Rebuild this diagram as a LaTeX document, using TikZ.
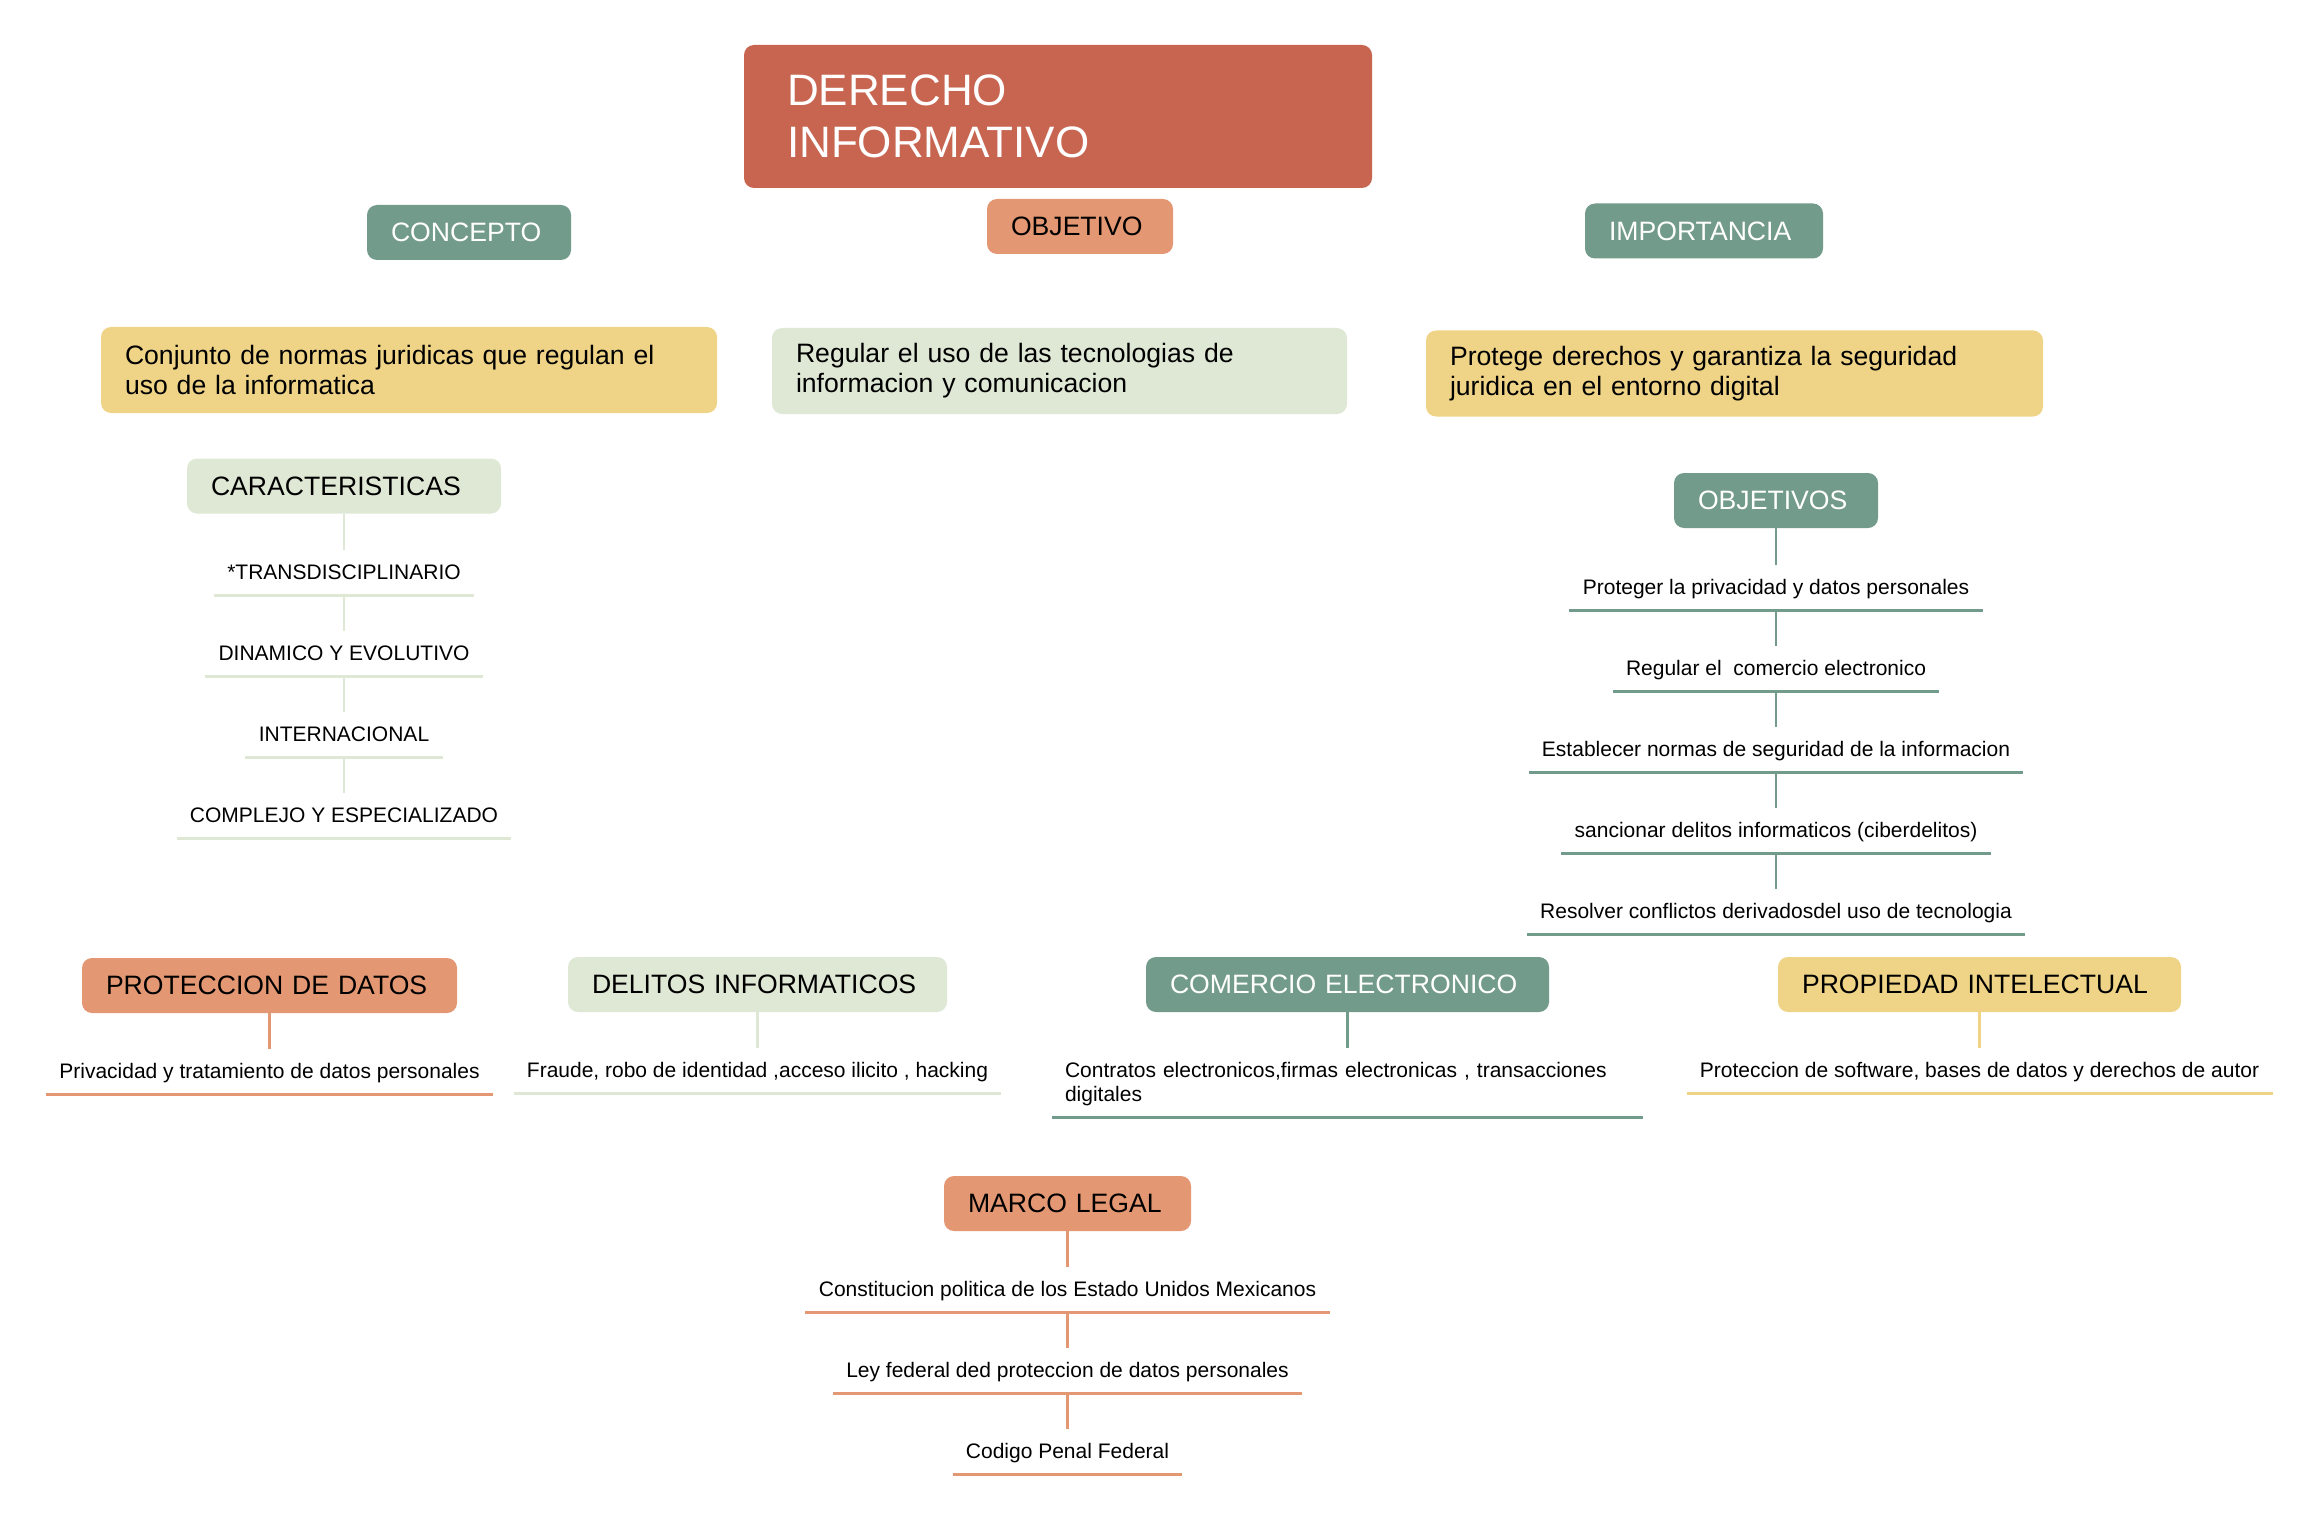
\documentclass[tikz,border=0pt]{standalone}
\usepackage{fontspec}
\setmainfont{Liberation Sans}
\definecolor{rojo}{RGB}{200,101,80}
\definecolor{salmon}{RGB}{227,152,115}
\definecolor{verde}{RGB}{115,155,139}
\definecolor{amarillo}{RGB}{239,212,135}
\definecolor{claro}{RGB}{223,231,213}

\begin{document}
\begin{tikzpicture}[x=0.5pt,y=-0.5pt,
    caja/.style={rounded corners=5pt, align=left, inner xsep=12pt, inner ysep=0pt, minimum height=27.5pt, font=\fontsize{13.3}{15}\selectfont},
    texto/.style={caja, minimum height=43pt},
    item/.style={anchor=south, inner xsep=6.5pt, inner ysep=0pt, text height=14.5pt, text depth=7.5pt, font=\fontsize{10.5}{12}\selectfont},
    linea/.style={line width=1.1pt},
    raya/.style={line width=1.5pt}]
    \useasboundingbox (0,0) rectangle (2316,1535);

    % titol
    \node[caja, fill=rojo, text=white, text width=271pt, inner xsep=21.5pt, minimum height=71.5pt, font=\fontsize{22}{26}\selectfont] (titulo) at (1058,116.5) {DERECHO\\INFORMATIVO};

    % fila de dalt
    \node[caja, fill=verde, text=white, text width=78pt] (concepto) at (469,232.5) {CONCEPTO};
    \node[caja, fill=salmon, text width=69pt] (objetivo) at (1080,226.5) {OBJETIVO};
    \node[caja, fill=verde, text=white, text width=95pt] (importancia) at (1704,231) {IMPORTANCIA};
    \node[texto, fill=amarillo, text width=284pt] (defin) at (409,370) {Conjunto de normas juridicas que regulan el\\uso de la informatica};
    \node[texto, fill=claro, text width=263.5pt] (fin) at (1059.5,371) {Regular el uso de las tecnologias de\\informacion y comunicacion};
    \node[texto, fill=amarillo, text width=284.5pt] (protege) at (1734.5,373.5) {Protege derechos y garantiza la seguridad\\juridica en el entorno digital};

    % caracteristicas
    \node[caja, fill=claro, text width=133pt] (carac) at (344,486) {CARACTERISTICAS};
    \foreach \t [count=\i] in {*TRANSDISCIPLINARIO, DINAMICO Y EVOLUTIVO, INTERNACIONAL, COMPLEJO Y ESPECIALIZADO}
        \node[item] (car\i) at (344,514+81*\i) {\t};
    \draw[linea, claro] (carac.south) -- (car1.north);
    \foreach \i/\j in {1/2,2/3,3/4}
        \draw[linea, claro] (car\i.south) -- (car\j.north);

    % objetivos
    \node[caja, fill=verde, text=white, text width=78pt] (objetivos) at (1776,500.5) {OBJETIVOS};
    \foreach \t [count=\i] in {Proteger la privacidad y datos personales, Regular el\ \ comercio electronico, Establecer normas de seguridad de la informacion, sancionar delitos informaticos (ciberdelitos), Resolver conflictos derivadosdel uso de tecnologia}
        \node[item] (obj\i) at (1776,529+81*\i) {\t};
    \draw[linea, verde] (objetivos.south) -- (obj1.north);
    \foreach \i/\j in {1/2,2/3,3/4,4/5}
        \draw[linea, verde] (obj\i.south) -- (obj\j.north);

    % fila de baix
    \node[caja, fill=salmon, text width=163.5pt] (proteccion) at (269.5,985.5) {PROTECCION DE DATOS};
    \node[item] (priv) at (269.5,1094) {Privacidad y tratamiento de datos personales};
    \draw[linea, salmon] (proteccion.south) -- (priv.north);

    \node[caja, fill=claro, text width=165.5pt] (delitos) at (757.5,984.5) {DELITOS INFORMATICOS};
    \node[item] (fraude) at (757.5,1093) {Fraude, robo de identidad ,acceso ilicito , hacking};
    \draw[linea, claro] (delitos.south) -- (fraude.north);

    \node[caja, fill=verde, text=white, text width=177.5pt] (comercio) at (1347.5,984.5) {COMERCIO ELECTRONICO};
    \node[item, align=left, text width=282.5pt, text depth=19.5pt] (contratos) at (1347.5,1117) {Contratos electronicos,firmas electronicas , transacciones\\digitales};
    \draw[linea, verde] (comercio.south) -- (contratos.north);

    \node[caja, fill=amarillo, text width=177.5pt] (propiedad) at (1979.5,984.5) {PROPIEDAD INTELECTUAL};
    \node[item] (software) at (1979.5,1093) {Proteccion de software, bases de datos y derechos de autor};
    \draw[linea, amarillo] (propiedad.south) -- (software.north);

    % marco legal
    \node[caja, fill=salmon, text width=99.5pt] (marco) at (1067.5,1203.5) {MARCO LEGAL};
    \foreach \t [count=\i] in {Constitucion politica de los Estado Unidos Mexicanos, Ley federal ded proteccion de datos personales, Codigo Penal Federal}
        \node[item] (ley\i) at (1067.5,1231+81*\i) {\t};
    \draw[linea, salmon] (marco.south) -- (ley1.north);
    \foreach \i/\j in {1/2,2/3}
        \draw[linea, salmon] (ley\i.south) -- (ley\j.north);

    % subratllats
    \foreach \n/\c in {car1/claro, car2/claro, car3/claro, car4/claro, obj1/verde, obj2/verde, obj3/verde, obj4/verde, obj5/verde, priv/salmon, fraude/claro, contratos/verde, software/amarillo, ley1/salmon, ley2/salmon, ley3/salmon}
        \draw[raya, \c] (\n.south west) -- (\n.south east);
\end{tikzpicture}
\end{document}
